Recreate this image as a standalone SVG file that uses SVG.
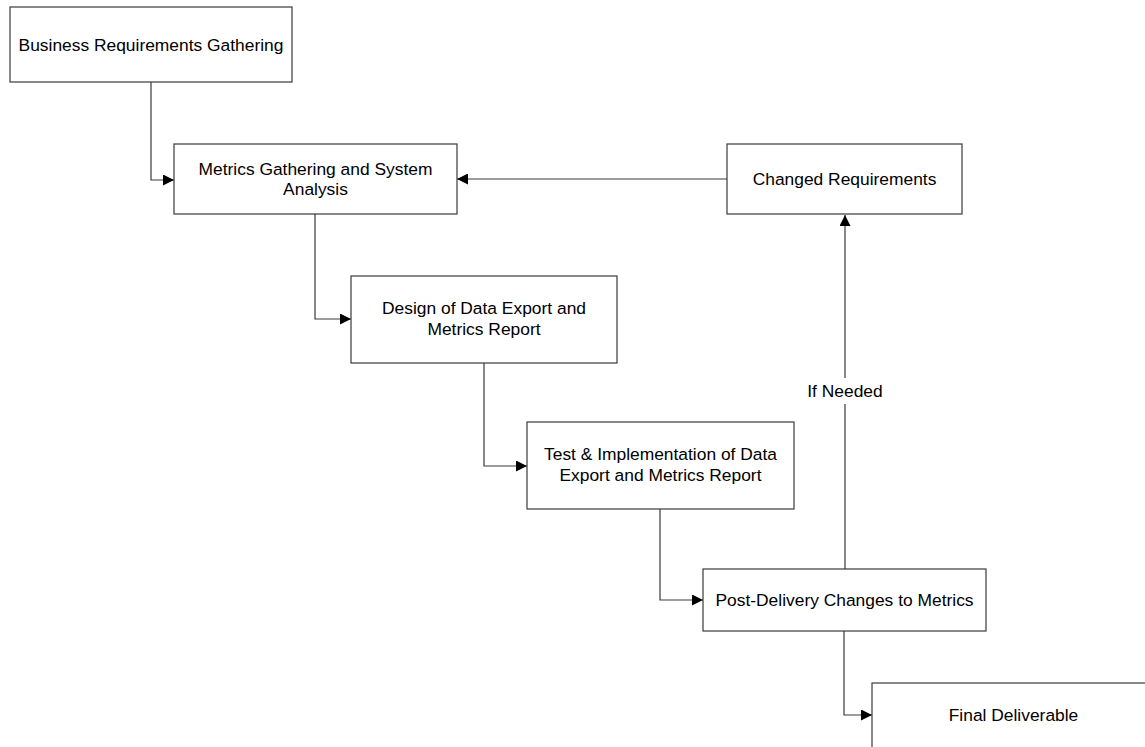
<svg xmlns="http://www.w3.org/2000/svg" width="1145" height="747" viewBox="0 0 1145 747">
<defs>
<style>
.box{fill:#fff;stroke:#3a3a3a;stroke-width:1.2}
.lbl{font-family:"Liberation Sans",Arial,sans-serif;font-size:17.4px;fill:#000;text-anchor:middle}
.con{fill:none;stroke:#3a3a3a;stroke-width:1.2}
</style>
<marker id="arr" viewBox="0 0 11 11" refX="11" refY="5.5" markerWidth="11" markerHeight="11" markerUnits="userSpaceOnUse" orient="auto">
<path d="M0,0 L11,5.5 L0,11 Z" fill="#000"/>
</marker>
</defs>
<rect width="1145" height="747" fill="#fff"/>
<g id="connectors">
<path class="con" d="M151,82 V180 H174" marker-end="url(#arr)"/>
<path class="con" d="M727,179 H457" marker-end="url(#arr)"/>
<path class="con" d="M315,214 V319 H351" marker-end="url(#arr)"/>
<path class="con" d="M484,363 V466 H527" marker-end="url(#arr)"/>
<path class="con" d="M660,509 V600 H703" marker-end="url(#arr)"/>
<path class="con" d="M845,569 V404 M845,378 V215" marker-end="url(#arr)"/>
<path class="con" d="M844,631 V715 H872" marker-end="url(#arr)"/>
<text class="lbl" x="845" y="397">If Needed</text>
</g>
<g id="n1">
<rect class="box" x="10" y="7" width="282" height="75"/>
<text class="lbl" x="151" y="51">Business Requirements Gathering</text>
</g>
<g id="n2">
<rect class="box" x="174" y="144" width="283" height="70"/>
<text class="lbl" x="315.5" y="175">Metrics Gathering and System</text>
<text class="lbl" x="315.5" y="195">Analysis</text>
</g>
<g id="n3">
<rect class="box" x="727" y="144" width="235" height="70"/>
<text class="lbl" x="844.5" y="185">Changed Requirements</text>
</g>
<g id="n4">
<rect class="box" x="351" y="276" width="266" height="87"/>
<text class="lbl" x="484" y="314">Design of Data Export and</text>
<text class="lbl" x="484" y="335">Metrics Report</text>
</g>
<g id="n5">
<rect class="box" x="527" y="422" width="267" height="87"/>
<text class="lbl" x="660.5" y="460">Test &amp; Implementation of Data</text>
<text class="lbl" x="660.5" y="481">Export and Metrics Report</text>
</g>
<g id="n6">
<rect class="box" x="703" y="569" width="283" height="62"/>
<text class="lbl" x="844.5" y="606">Post-Delivery Changes to Metrics</text>
</g>
<g id="n7">
<rect class="box" x="872" y="683" width="283" height="70"/>
<text class="lbl" x="1013.5" y="721">Final Deliverable</text>
</g>
</svg>
